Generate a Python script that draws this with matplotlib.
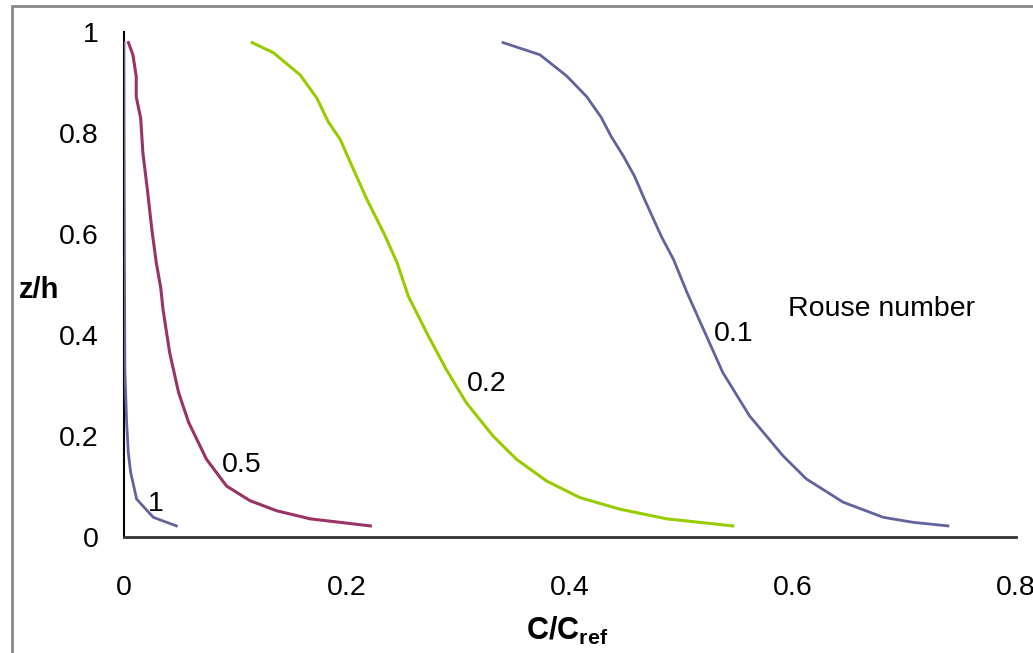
import matplotlib
matplotlib.use("Agg")
from matplotlib import pyplot as plt
from matplotlib.patches import Rectangle

plt.rcParams['font.family'] = ['Liberation Sans', 'DejaVu Sans']
plt.rcParams['mathtext.fontset'] = 'custom'
plt.rcParams['mathtext.rm'] = 'Liberation Sans'
plt.rcParams['mathtext.bf'] = 'Liberation Sans:bold'

# Rouse number 0.1
x_01 = [0.340, 0.373, 0.397, 0.415, 0.428, 0.437, 0.448, 0.458, 0.467, 0.482, 0.493,
        0.505, 0.521, 0.537, 0.561, 0.591, 0.612, 0.645, 0.681, 0.708, 0.739]
y_01 = [0.979, 0.955, 0.913, 0.872, 0.831, 0.793, 0.754, 0.714, 0.668, 0.595, 0.549,
        0.484, 0.405, 0.326, 0.240, 0.161, 0.115, 0.069, 0.039, 0.029, 0.022]

# Rouse number 0.2
x_02 = [0.115, 0.134, 0.158, 0.173, 0.183, 0.194, 0.206, 0.218, 0.233, 0.245, 0.255,
        0.273, 0.289, 0.307, 0.331, 0.352, 0.379, 0.409, 0.445, 0.487, 0.546]
y_02 = [0.979, 0.959, 0.915, 0.869, 0.823, 0.787, 0.727, 0.668, 0.602, 0.543, 0.477,
        0.398, 0.332, 0.266, 0.200, 0.154, 0.111, 0.078, 0.055, 0.036, 0.022]

# Rouse number 0.5
x_05 = [0.004, 0.008, 0.011, 0.011, 0.015, 0.017, 0.021, 0.025, 0.029, 0.033, 0.035,
        0.041, 0.049, 0.058, 0.074, 0.092, 0.113, 0.137, 0.167, 0.221]
y_05 = [0.979, 0.955, 0.912, 0.872, 0.829, 0.760, 0.688, 0.609, 0.543, 0.493, 0.451,
        0.365, 0.286, 0.227, 0.154, 0.101, 0.072, 0.052, 0.036, 0.022]

# Rouse number 1
x_1 = [0.0, 0.0001, 0.0004, 0.0008, 0.0024, 0.0039, 0.006, 0.0114, 0.0263, 0.047]
y_1 = [0.979, 0.80, 0.58, 0.33, 0.227, 0.167, 0.128, 0.075, 0.039, 0.022]

labels = ['0.1', '0.2', '0.5', '1']
label_x = [0.547, 0.3253, 0.1055, 0.0287]
label_y = [0.388, 0.289, 0.128, 0.051]

blue = '#62629e'
green = '#99cc00'
plum = '#993366'

fig = plt.figure(figsize=(10.33, 6.53), dpi=100)
ax = fig.add_axes([0.120, 0.1776, 0.8635, 0.7734])

ax.plot(x_01, y_01, color=blue, lw=2, zorder=3)
ax.plot(x_02, y_02, color=green, lw=2.2, zorder=3)
ax.plot(x_05, y_05, color=plum, lw=2.2, zorder=3)
ax.plot(x_1, y_1, color=blue, lw=2, zorder=3)

for t, lx, ly in zip(labels, label_x, label_y):
    ax.text(lx, ly, t, ha='center', va='baseline', fontsize=20.5)
ax.text(0.5955, 0.437, 'Rouse number', ha='left', va='baseline', fontsize=20.5)

ax.set_xlim(0, 0.8)
ax.set_ylim(0, 1)
ax.set_xticks([0, 0.2, 0.4, 0.6, 0.8])
ax.set_xticklabels(['0', '0.2', '0.4', '0.6', '0.8'])
ax.set_yticks([0, 0.2, 0.4, 0.6, 0.8, 1])
ax.set_yticklabels(['0', '0.2', '0.4', '0.6', '0.8', '1'])
ax.tick_params(axis='both', length=0, labelsize=20.5)
ax.tick_params(axis='x', pad=27)
ax.tick_params(axis='y', pad=18)

for s in ['top', 'right']:
    ax.spines[s].set_visible(False)
ax.spines['left'].set_color('black')
ax.spines['bottom'].set_color('#333333')
ax.spines['left'].set_linewidth(1.5)
ax.spines['bottom'].set_linewidth(2)

fig.text(526 / 1033, 13 / 653, r'$\mathbf{C/C_{ref}}$', fontsize=22, ha='left', va='baseline')
ax.set_ylabel('z/h', fontsize=21, fontweight='bold', rotation=0, va='center', ha='center')
ax.yaxis.set_label_coords(-0.0947, 0.49)

fig.patches.append(Rectangle((12 / 1033, -0.1), 1.1, 1.1 - 6 / 653, transform=fig.transFigure,
                             fill=False, edgecolor='#888888', lw=2))

fig.savefig('out.png', dpi=100)
